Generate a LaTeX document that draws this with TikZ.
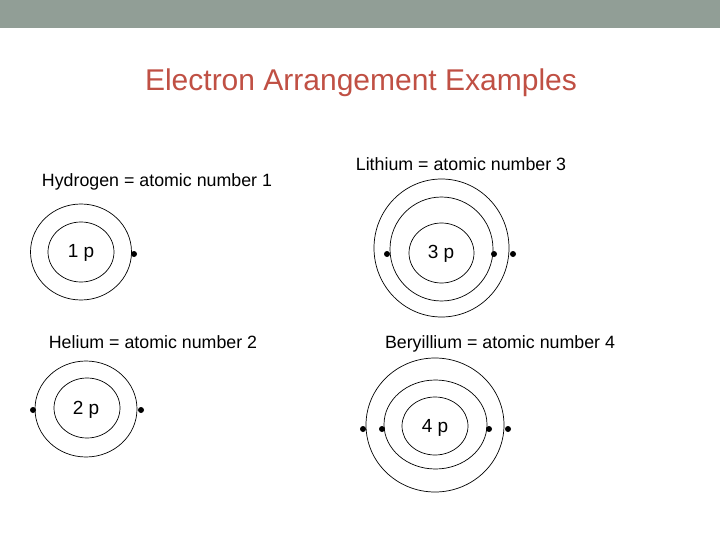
\documentclass[tikz,border=0pt]{standalone}
\usepackage{fontspec}
\setmainfont{Liberation Sans}
\usepackage{tikz}
\usetikzlibrary{
    calc,
    positioning,
}
\definecolor{bandgray}{RGB}{145,158,150}
\definecolor{titlered}{RGB}{192,80,68}
\tikzset{
    shell/.style={draw=black, line width=0.7pt},
    electron/.style={circle, fill=black, inner sep=0pt, minimum size=6pt},
    atomlabel/.style={font=\fontsize{17.8}{20}\selectfont, anchor=base},
    nucleus/.style={font=\fontsize{19}{21}\selectfont},
}

\begin{document}
\begin{tikzpicture}[
    x=1pt, y=-1pt,
    ]
    \useasboundingbox (0,0) rectangle (720,540);
    \fill[bandgray] (0,0) rectangle (720,28);

    \node[text=titlered, font=\fontsize{30}{34}\selectfont] (title) at (361,83) {Electron Arrangement Examples};

    % hydrogen
    \node[atomlabel] (hlabel) at (157,187) {Hydrogen = atomic number 1};
    \draw[shell] (81,252) ellipse (50.5 and 48);
    \draw[shell] (81,252) ellipse (33 and 30);
    \node[nucleus] (hnuc) at (81,253) {1 p};
    \node[electron] (h1) at (134,254) {};

    % helium
    \node[atomlabel] (helabel) at (153,348) {Helium = atomic number 2};
    \draw[shell] (86,409) ellipse (51 and 48);
    \draw[shell] (87,408) ellipse (33 and 30);
    \node[nucleus] (henuc) at (86,410) {2 p};
    \node[electron] (he1) at (33,410) {};
    \node[electron] (he2) at (141,410) {};

    % lithium
    \node[atomlabel] (lilabel) at (461,171) {Lithium = atomic number 3};
    \draw[shell] (441.5,248) ellipse (67.5 and 69);
    \draw[shell] (441.5,249) ellipse (51.5 and 52);
    \draw[shell] (441.5,253) ellipse (32.5 and 30);
    \node[nucleus] (linuc) at (441,254) {3 p};
    \node[electron] (li1) at (387,254) {};
    \node[electron] (li2) at (494,254) {};
    \node[electron] (li3) at (513,254) {};

    % beryllium
    \node[atomlabel] (belabel) at (500,348) {Beryillium = atomic number 4};
    \draw[shell] (435,425) ellipse (69 and 67);
    \draw[shell] (435.5,424.5) ellipse (51.5 and 44.5);
    \draw[shell] (435,426) ellipse (33 and 29);
    \node[nucleus] (benuc) at (435,428) {4 p};
    \node[electron] (be1) at (363,429) {};
    \node[electron] (be2) at (382,429) {};
    \node[electron] (be3) at (489,429) {};
    \node[electron] (be4) at (508,429) {};

\end{tikzpicture}
\end{document}
